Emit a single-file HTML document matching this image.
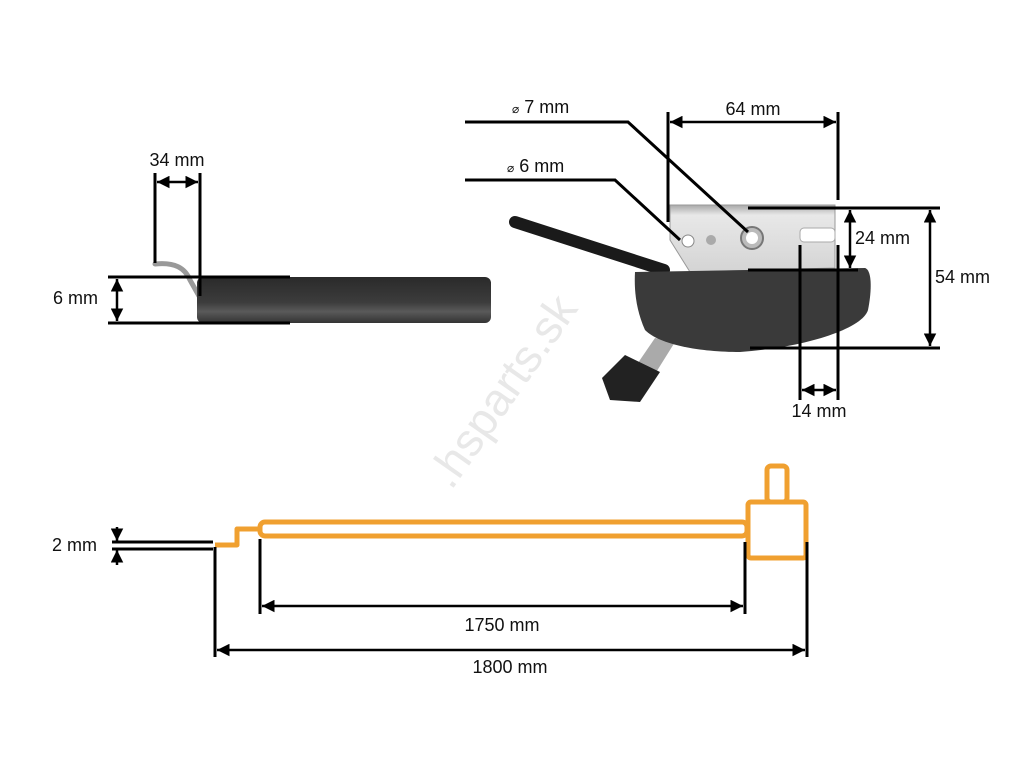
<!DOCTYPE html>
<html><head><meta charset="utf-8"><style>
html,body{margin:0;padding:0;background:#fff;}
svg{display:block;}
text{font-family:"Liberation Sans",Arial,sans-serif;font-size:18px;fill:#111;}
</style></head><body>
<svg width="1024" height="768" viewBox="0 0 1024 768" xmlns="http://www.w3.org/2000/svg">
<defs>
<marker id="a" viewBox="0 0 10 10" refX="10" refY="5" markerWidth="5" markerHeight="5" orient="auto-start-reverse"><path d="M0,0 L10,5 L0,10 z" fill="#000"/></marker>
<linearGradient id="cab" x1="0" y1="0" x2="0" y2="1"><stop offset="0" stop-color="#2a2a2a"/><stop offset="0.55" stop-color="#3c3c3c"/><stop offset="0.75" stop-color="#5a5a5a"/><stop offset="1" stop-color="#333"/></linearGradient>
<linearGradient id="met" x1="0" y1="0" x2="0" y2="1"><stop offset="0" stop-color="#a8a8a8"/><stop offset="0.15" stop-color="#e8e8e8"/><stop offset="1" stop-color="#d4d4d4"/></linearGradient>
</defs>

<text x="0" y="0" transform="translate(515,400) rotate(-55)" text-anchor="middle" style="font-size:46px;fill:#e8e8e8">.hsparts.sk</text>

<path d="M155,264 C175,262 185,268 190,280 L199,296" stroke="#999" stroke-width="5" fill="none" stroke-linecap="round"/>
<rect x="197" y="277" width="294" height="46" rx="6" fill="url(#cab)"/>
<g stroke="#000" stroke-width="3" fill="none">
<line x1="155" y1="173" x2="155" y2="263"/>
<line x1="200" y1="173" x2="200" y2="296"/>
<line x1="108" y1="277" x2="290" y2="277"/>
<line x1="108" y1="323" x2="290" y2="323"/>
</g>
<line x1="157" y1="182" x2="198" y2="182" stroke="#000" stroke-width="2.5" marker-start="url(#a)" marker-end="url(#a)"/>
<line x1="117" y1="279" x2="117" y2="321" stroke="#000" stroke-width="2.5" marker-start="url(#a)" marker-end="url(#a)"/>
<text x="177" y="166" text-anchor="middle">34 mm</text>
<text x="53" y="304">6 mm</text>

<path d="M515,222 L664,270" stroke="#1a1a1a" stroke-width="12" stroke-linecap="round"/>
<path d="M670,205 L835,205 L835,268 L690,272 L670,240 Z" fill="url(#met)" stroke="#999" stroke-width="1"/>
<circle cx="688" cy="241" r="6" fill="#fff" stroke="#888"/>
<circle cx="711" cy="240" r="5" fill="#aaa"/>
<circle cx="752" cy="238" r="11" fill="#bbb" stroke="#777" stroke-width="2"/>
<circle cx="752" cy="238" r="6" fill="#fff"/>
<rect x="800" y="228" width="35" height="14" rx="4" fill="#fff" stroke="#aaa"/>
<path d="M655,338 L675,342 L640,398 L618,392 Z" fill="#aaa"/>
<path d="M602,378 L625,355 L660,372 L640,402 L610,400 Z" fill="#222"/>
<path d="M635,272 L865,268 C872,270 872,290 868,310 C862,330 800,348 740,352 C700,352 660,345 645,330 C636,310 634,290 635,272 Z" fill="#3a3a3a"/>
<g stroke="#000" stroke-width="3" fill="none">
<polyline points="465,122 628,122 748,232"/>
<polyline points="465,180 615,180 680,240"/>
<line x1="668" y1="112" x2="668" y2="222"/>
<line x1="838" y1="112" x2="838" y2="200"/>
<line x1="838" y1="245" x2="838" y2="400"/>
<line x1="800" y1="245" x2="800" y2="400"/>
<line x1="748" y1="208" x2="940" y2="208"/>
<line x1="748" y1="270" x2="858" y2="270"/>
<line x1="750" y1="348" x2="940" y2="348"/>
</g>
<line x1="670" y1="122" x2="836" y2="122" stroke="#000" stroke-width="2.5" marker-start="url(#a)" marker-end="url(#a)"/>
<line x1="850" y1="210" x2="850" y2="268" stroke="#000" stroke-width="2.5" marker-start="url(#a)" marker-end="url(#a)"/>
<line x1="930" y1="210" x2="930" y2="346" stroke="#000" stroke-width="2.5" marker-start="url(#a)" marker-end="url(#a)"/>
<line x1="802" y1="390" x2="836" y2="390" stroke="#000" stroke-width="2.5" marker-start="url(#a)" marker-end="url(#a)"/>
<text x="512" y="113"><tspan style="font-size:12px">⌀</tspan> 7 mm</text>
<text x="507" y="172"><tspan style="font-size:12px">⌀</tspan> 6 mm</text>
<text x="753" y="115" text-anchor="middle">64 mm</text>
<text x="855" y="244">24 mm</text>
<text x="935" y="283">54 mm</text>
<text x="819" y="417" text-anchor="middle">14 mm</text>

<g stroke="#f0a030" stroke-width="5" fill="none" stroke-linejoin="round">
<polyline points="215,545 237,545 237,529 258,529"/>
<rect x="260" y="522" width="487" height="14" rx="5"/>
<rect x="748" y="502" width="58" height="56" rx="3"/>
<rect x="767" y="466" width="20" height="36" rx="4"/>
</g>
<g stroke="#000" stroke-width="3" fill="none">
<line x1="112" y1="542" x2="213" y2="542"/>
<line x1="112" y1="549" x2="213" y2="549"/>
<line x1="215" y1="547" x2="215" y2="657"/>
<line x1="260" y1="539" x2="260" y2="614"/>
<line x1="745" y1="542" x2="745" y2="614"/>
<line x1="807" y1="542" x2="807" y2="657"/>
</g>
<line x1="117" y1="527" x2="117" y2="541" stroke="#000" stroke-width="2.5" marker-end="url(#a)"/>
<line x1="117" y1="565" x2="117" y2="550" stroke="#000" stroke-width="2.5" marker-end="url(#a)"/>
<line x1="262" y1="606" x2="743" y2="606" stroke="#000" stroke-width="2.5" marker-start="url(#a)" marker-end="url(#a)"/>
<line x1="217" y1="650" x2="805" y2="650" stroke="#000" stroke-width="2.5" marker-start="url(#a)" marker-end="url(#a)"/>
<text x="52" y="551">2 mm</text>
<text x="502" y="631" text-anchor="middle">1750 mm</text>
<text x="510" y="673" text-anchor="middle">1800 mm</text>
</svg>
</body></html>
